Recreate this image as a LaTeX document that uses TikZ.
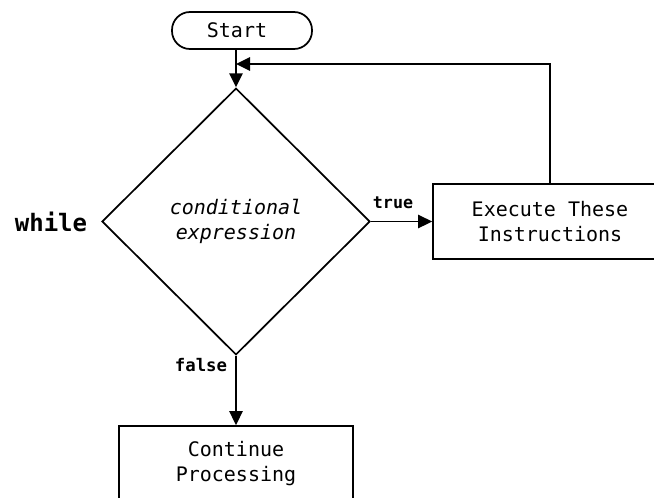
\documentclass[tikz,border=0pt]{standalone}
\usepackage{fontspec}
\setmainfont{DejaVu Sans Mono}[
  BoldFont={DejaVu Sans Mono Bold},
  ItalicFont={DejaVu Sans Mono Oblique}]
\usetikzlibrary{shapes.geometric,arrows.meta}
\begin{document}
\begin{tikzpicture}[x=0.75pt,y=-0.75pt,
  line width=1.3pt,
  txt/.style={font=\fontsize{15}{18.5}\selectfont, align=center},
  terminal/.style={draw, txt, rounded corners=13.5pt, minimum width=105pt,
    minimum height=27.75pt, inner sep=0pt},
  procbox/.style={draw, txt, minimum width=175.5pt, minimum height=56.25pt,
    inner sep=0pt},
  decision/.style={draw, diamond, txt, minimum width=201pt,
    minimum height=200pt, inner sep=0pt},
  flow/.style={-{Triangle[length=10.5pt,width=10pt]}},
  kw/.style={font=\bfseries\fontsize{#1}{#1}\selectfont, inner sep=0pt}]
  \clip (0,0) rectangle (654,497);
  \useasboundingbox (0,0) rectangle (654,497);

  % nodes of the loop
  \node[terminal] (start) at (242,30.5) {Start\hspace{7.5pt}};
  \node[decision] (cond) at (236,221.5) {\itshape conditional\\\itshape expression};
  \node[procbox] (exec) at (550,221.5) {Execute These\\Instructions};
  \node[procbox] (cont) at (236,463.5) {Continue\\Processing};

  % keywords and branch labels
  \node[kw=18] (while) at (51,222) {while};
  \node[kw=12.5] (truelbl) at (393,203) {true};
  \node[kw=13] (falselbl) at (201,365) {false};

  % connectors
  \coordinate (rejoin) at (236,64);
  \draw[flow] (start.south -| cond.north) -- (cond.north);
  \draw[flow] (cond.east) -- (exec.west);
  \draw[flow] (exec.north) |- (rejoin);
  \draw[flow] (cond.south) -- (cont.north);
\end{tikzpicture}
\end{document}
